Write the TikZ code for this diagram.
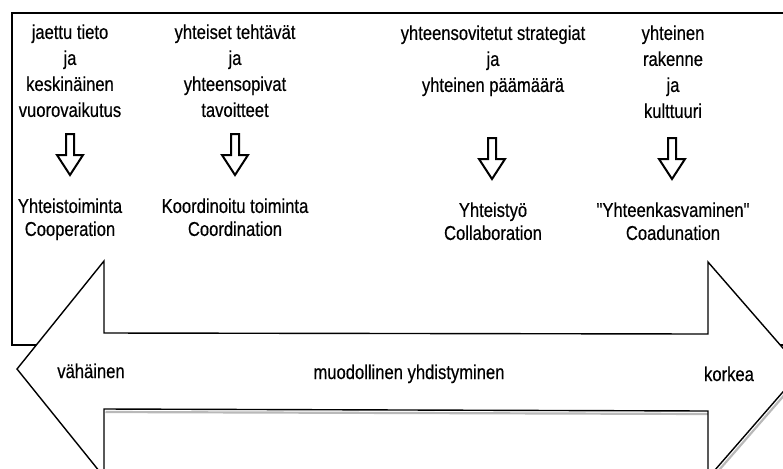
\documentclass[tikz,border=0pt]{standalone}
\usepackage{fontspec}
\setmainfont{Liberation Sans}[FakeStretch=0.83, FakeBold=0.4, Ligatures=TeXOff]

\begin{document}
\begin{tikzpicture}[
  x=0.5pt, y=-0.5pt,
  toptext/.style={align=center, anchor=north, inner sep=0pt, font=\fontsize{10}{13}\selectfont},
  term/.style={align=center, anchor=north, inner sep=0pt, font=\fontsize{10}{11.5}\selectfont},
  axistext/.style={anchor=base, inner sep=0pt, font=\fontsize{10}{11.5}\selectfont},
  frame/.style={line width=0.7pt},
  bigarrow/.style={draw, line width=0.7pt, fill=white, line join=miter},
  shadow/.style={gray!55, line width=1.1pt},
  hollow/.style={line width=1pt, line join=miter}
]
\useasboundingbox (0,0) rectangle (783,468);
\clip (0,0) rectangle (783,468);

% outer frame, its lower part hidden by the arrow
\draw[frame] (12,13) rectangle (800,345);

% double arrow along the bottom
\draw[shadow, shift={(1.5,3)}] (802,370) -- (708,478) (708,411) -- (104,409);
\draw[bigarrow] (17,369) -- (104,261) -- (104,333) -- (708,334) -- (708,262)
  -- (802,370) -- (708,478) -- (708,411) -- (104,409) -- (104,477) -- cycle;

% texts above the arrows
\node[toptext] (info) at (70,24) {jaettu tieto\\ja\\keskinäinen\\vuorovaikutus};
\node[toptext] (tasks) at (235,24) {yhteiset tehtävät\\ja\\yhteensopivat\\tavoitteet};
\node[toptext] (strat) at (493,25) {yhteensovitetut strategiat\\ja\\yhteinen päämäärä};
\node[toptext] (struct) at (673,25) {yhteinen\\rakenne\\ja\\kulttuuri};

% open down arrows
\foreach \x/\y in {70/134, 235/134, 492/138, 672/138}
  \draw[hollow] (\x-4,\y) -- (\x+4,\y) -- (\x+4,\y+21) -- (\x+13,\y+21)
    -- (\x,\y+41) -- (\x-13,\y+21) -- (\x-4,\y+21) -- cycle;

% levels
\node[term] (coop) at (70,198) {Yhteistoiminta\\Cooperation};
\node[term] (coord) at (235,198) {Koordinoitu toiminta\\Coordination};
\node[term] (collab) at (493,202) {Yhteistyö\\Collaboration};
\node[term] (coad) at (673,202) {"Yhteenkasvaminen"\\Coadunation};

% scale on the arrow
\node[axistext] (low) at (91,378) {vähäinen};
\node[axistext] (mid) at (409,379) {muodollinen yhdistyminen};
\node[axistext] (high) at (729,381) {korkea};
\end{tikzpicture}
\end{document}
